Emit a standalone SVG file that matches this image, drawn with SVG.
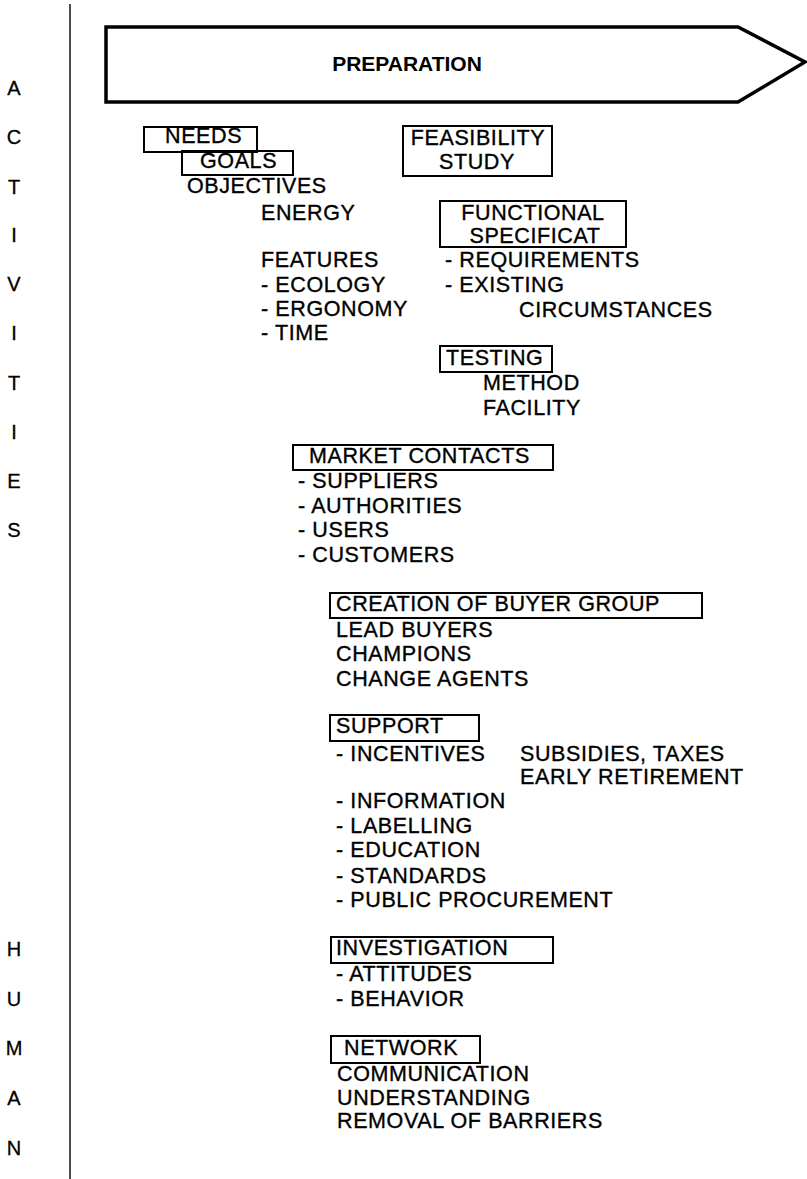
<svg xmlns="http://www.w3.org/2000/svg" width="807" height="1179" viewBox="0 0 807 1179">
<style>
  text { font-family: "Liberation Sans", Arial, Helvetica, sans-serif; fill: #000; }
  .t { font-size: 21.5px; letter-spacing: 0.6px; stroke: #000; stroke-width: 0.35px; }
  .side { font-size: 20px; text-anchor: middle; stroke: #000; stroke-width: 0.3px; }
  .box { fill: none; stroke: #000; stroke-width: 2; }
  .mid { text-anchor: middle; }
</style>
<rect width="807" height="1179" fill="#fff"/>

<g id="axis">
  <line x1="70" y1="4" x2="70" y2="1179" stroke="#222" stroke-width="1.6"/>
  <text class="side" x="14" y="95">A</text>
  <text class="side" x="14" y="144">C</text>
  <text class="side" x="14" y="194">T</text>
  <text class="side" x="14" y="242">I</text>
  <text class="side" x="14" y="291">V</text>
  <text class="side" x="14" y="340">I</text>
  <text class="side" x="14" y="390">T</text>
  <text class="side" x="14" y="439">I</text>
  <text class="side" x="14" y="488">E</text>
  <text class="side" x="14" y="537">S</text>
  <text class="side" x="14" y="956">H</text>
  <text class="side" x="14" y="1006">U</text>
  <text class="side" x="14" y="1055">M</text>
  <text class="side" x="14" y="1105">A</text>
  <text class="side" x="14" y="1155">N</text>
</g>

<g id="preparation">
  <polygon points="106,27 738,27 805,62 738,102 106,102" fill="#fff" stroke="#000" stroke-width="3.5" stroke-linejoin="miter"/>
  <text x="407" y="71" class="mid" font-size="21" font-weight="bold">PREPARATION</text>
</g>

<g id="needs">
  <rect class="box" x="144" y="127" width="113" height="25"/>
  <text class="t" x="165" y="143">NEEDS</text>
</g>
<g id="goals">
  <rect class="box" x="182" y="151" width="111" height="24"/>
  <text class="t" x="200" y="168">GOALS</text>
</g>
<g id="objectives">
  <text class="t" x="187" y="193">OBJECTIVES</text>
  <text class="t" x="261" y="220">ENERGY</text>
  <text class="t" x="261" y="267">FEATURES</text>
  <text class="t" x="261" y="292">- ECOLOGY</text>
  <text class="t" x="261" y="316">- ERGONOMY</text>
  <text class="t" x="261" y="340">- TIME</text>
</g>

<g id="feasibility">
  <rect class="box" x="403" y="126" width="149" height="50"/>
  <text class="t mid" x="478" y="145">FEASIBILITY</text>
  <text class="t mid" x="477" y="169">STUDY</text>
</g>

<g id="functional">
  <rect class="box" x="440" y="201" width="186" height="46"/>
  <text class="t mid" x="533" y="220">FUNCTIONAL</text>
  <text class="t mid" x="535" y="243">SPECIFICAT</text>
  <text class="t" x="445" y="267">- REQUIREMENTS</text>
  <text class="t" x="445" y="292">- EXISTING</text>
  <text class="t" x="519" y="317">CIRCUMSTANCES</text>
</g>

<g id="testing">
  <rect class="box" x="440" y="346" width="112" height="26"/>
  <text class="t" x="446" y="365">TESTING</text>
  <text class="t" x="483" y="390">METHOD</text>
  <text class="t" x="483" y="415">FACILITY</text>
</g>

<g id="market-contacts">
  <rect class="box" x="293" y="445" width="260" height="25"/>
  <text class="t" x="309" y="463">MARKET CONTACTS</text>
  <text class="t" x="298" y="488">- SUPPLIERS</text>
  <text class="t" x="298" y="513">- AUTHORITIES</text>
  <text class="t" x="298" y="537">- USERS</text>
  <text class="t" x="298" y="562">- CUSTOMERS</text>
</g>

<g id="buyer-group">
  <rect class="box" x="330" y="593" width="372" height="25"/>
  <text class="t" x="336" y="611">CREATION OF BUYER GROUP</text>
  <text class="t" x="336" y="637">LEAD BUYERS</text>
  <text class="t" x="336" y="661">CHAMPIONS</text>
  <text class="t" x="336" y="686">CHANGE AGENTS</text>
</g>

<g id="support">
  <rect class="box" x="330" y="715" width="149" height="26"/>
  <text class="t" x="336" y="733">SUPPORT</text>
  <text class="t" x="336" y="761">- INCENTIVES</text>
  <text class="t" x="520" y="761">SUBSIDIES, TAXES</text>
  <text class="t" x="520" y="784">EARLY RETIREMENT</text>
  <text class="t" x="336" y="808">- INFORMATION</text>
  <text class="t" x="336" y="833">- LABELLING</text>
  <text class="t" x="336" y="857">- EDUCATION</text>
  <text class="t" x="336" y="883">- STANDARDS</text>
  <text class="t" x="336" y="907">- PUBLIC PROCUREMENT</text>
</g>

<g id="investigation">
  <rect class="box" x="331" y="937" width="222" height="26"/>
  <text class="t" x="336" y="955">INVESTIGATION</text>
  <text class="t" x="336" y="981">- ATTITUDES</text>
  <text class="t" x="336" y="1006">- BEHAVIOR</text>
</g>

<g id="network">
  <rect class="box" x="331" y="1036" width="149" height="27"/>
  <text class="t" x="344" y="1055">NETWORK</text>
  <text class="t" x="337" y="1081">COMMUNICATION</text>
  <text class="t" x="337" y="1105">UNDERSTANDING</text>
  <text class="t" x="337" y="1128">REMOVAL OF BARRIERS</text>
</g>

<g id="connectors"></g>
</svg>
